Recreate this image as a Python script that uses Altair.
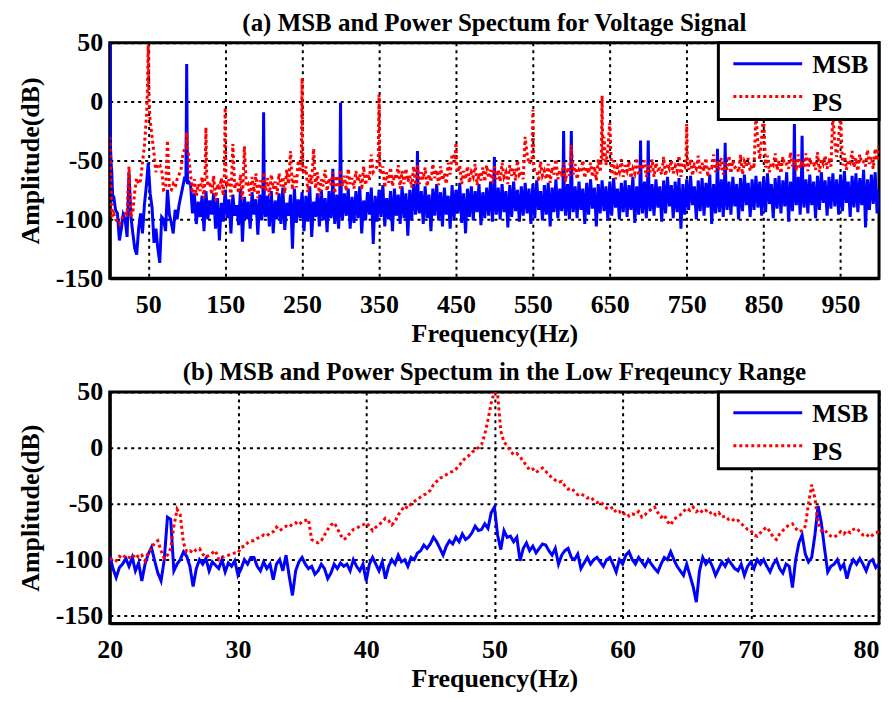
import altair as alt
import pandas as pd

FONT = "Liberation Serif"
BLUE = "#0000FF"
RED = "#FF0000"
series_names = ["MSB", "PS"]

# ---------------- Panel (a): 0-1000 Hz ----------------
# readings at 0, 5, 10, ... Hz (upper side of the noisy band and the narrow peaks)
a_start, a_step = 0, 5
msb_a_db = [
    50, -80, -95, -108, -100, -60, -112, -130, -95, -88, -52, -90, -108, -137, -100, -75, -103, -92, -88, -72,
    32, -70, -78, -85, -80, -76, -84, -78, -82, -86, -75, -83, -79, -88, -74, -81, -85, -77, -83, -79,
    -9, -80, -76, -84, -78, -73, -86, -79, -74, -83, -77, -80, -72, -85, -78, -75, -82, -76, -57, -79,
    -1, -78, -74, -81, -76, -72, -84, -77, -73, -80, -75, -71, -82, -76, -74, -79, -72, -78, -75, -70,
    -42, -76, -72, -79, -74, -70, -77, -73, -80, -71, -75, -69, -78, -74, -72, -76, -70, -77, -73, -68,
    -47, -73, -70, -76, -71, -68, -75, -72, -69, -74, -70, -67, -76, -71, -69, -73, -66, -74, -25, -70,
    -25, -72, -68, -74, -69, -66, -73, -70, -67, -72, -68, -65, -74, -69, -67, -71, -64, -72, -33, -68,
    -33, -70, -66, -72, -67, -64, -71, -68, -65, -70, -66, -63, -72, -67, -65, -69, -62, -70, -40, -66,
    -35, -68, -64, -70, -65, -62, -69, -66, -63, -68, -64, -61, -70, -65, -63, -67, -60, -68, -19, -64,
    -29, -66, -62, -68, -63, -60, -67, -64, -61, -66, -62, -59, -68, -63, -61, -65, -58, -66, -62, -60,
]
ps_a_db = [
    -30, -95, -102, -100, -95, -55, -94, -65, -67, -38, 48, -30, -60, -54, -75, -33, -75, -73, -62, -45,
    -26, -62, -66, -70, -64, -22, -68, -63, -70, -65, -5, -66, -36, -68, -62, -38, -70, -64, -61, -67,
    -60, -65, -62, -68, -61, -64, -58, -42, -63, -50, 20, -55, -62, -40, -60, -66, -58, -65, -60, -63,
    -58, -63, -57, -65, -59, -62, -55, -61, -45, -58, 6, -55, -60, -56, -62, -54, -59, -57, -63, -55,
    -54, -60, -56, -62, -53, -58, -55, -61, -52, -45, -35, -54, -59, -55, -60, -53, -61, -56, -54, -58,
    -55, -58, -52, -60, -54, -57, -50, -59, -30, -53, -7, -58, -51, -59, -53, -56, -49, -58, -52, -56,
    -37, -53, -58, -50, -56, -52, -55, -49, 5, -54, -18, -50, -56, -49, -54, -51, -57, -48, -53, -50,
    -54, -49, -52, -57, -47, -53, -50, -55, -46, -52, -19, -49, -54, -46, -52, -48, -55, -45, -51, -48,
    -52, -46, -50, -55, -45, -51, -48, -53, -10, -49, -10, -46, -52, -44, -50, -47, -53, -43, -49, -45,
    -50, -44, -48, -53, -43, -49, -46, -51, -10, -47, -10, -44, -50, -42, -48, -45, -51, -41, -47, -40,
]
# readings at 2.5, 7.5, 12.5, ... Hz (lower side of the noisy band)
a_mid_start = 2.5
msb_a_mid_db = [
    -58, -92, -118, -96, -115, -98, -125, -108, -112, -72, -78, -120, -125, -98, -110, -96, -112, -100, -80, -64,
    -68, -95, -104, -98, -110, -100, -96, -108, -118, -102, -99, -112, -97, -105, -119, -100, -108, -96, -113, -101,
    -98, -106, -112, -100, -104, -109, -97, -125, -103, -99, -110, -102, -115, -98, -106, -101, -111, -99, -104, -108,
    -100, -97, -108, -103, -99, -112, -101, -96, -121, -102, -98, -106, -100, -110, -97, -104, -99, -114, -101, -96,
    -95, -104, -99, -110, -97, -101, -106, -96, -108, -100, -95, -103, -112, -98, -101, -94, -105, -99, -97, -102,
    -96, -100, -94, -107, -98, -93, -102, -97, -95, -104, -99, -92, -101, -96, -106, -94, -99, -93, -97, -100,
    -94, -99, -92, -104, -96, -91, -106, -95, -93, -101, -97, -90, -100, -94, -98, -92, -103, -96, -95, -99,
    -93, -97, -90, -102, -95, -89, -99, -94, -108, -96, -92, -88, -100, -93, -97, -90, -104, -95, -94, -98,
    -92, -96, -89, -100, -93, -88, -98, -92, -90, -97, -94, -87, -99, -91, -95, -89, -102, -93, -88, -96,
    -90, -95, -88, -99, -92, -86, -97, -91, -89, -96, -93, -86, -98, -90, -94, -88, -107, -92, -87, -95,
]
ps_a_mid_db = [
    -92, -100, -104, -97, -96, -98, -76, -70, -52, -14, -16, -44, -53, -58, -74, -74, -70, -66, -58, -40,
    -45, -78, -80, -76, -82, -72, -79, -84, -75, -80, -70, -81, -74, -78, -83, -72, -80, -77, -82, -75,
    -76, -80, -74, -79, -72, -78, -70, -75, -73, -60, -62, -77, -70, -74, -80, -72, -76, -71, -78, -73,
    -72, -76, -70, -74, -68, -75, -71, -67, -60, -55, -62, -73, -69, -72, -66, -74, -70, -68, -73, -71,
    -70, -66, -72, -68, -65, -71, -67, -70, -62, -45, -60, -70, -66, -69, -64, -71, -67, -68, -65, -69,
    -66, -68, -64, -70, -63, -67, -62, -66, -45, -50, -58, -68, -63, -66, -69, -62, -66, -64, -68, -63,
    -62, -66, -60, -65, -61, -64, -67, -60, -30, -40, -62, -66, -60, -64, -59, -65, -61, -63, -58, -64,
    -60, -64, -58, -62, -63, -57, -61, -59, -64, -55, -58, -63, -57, -61, -59, -64, -56, -60, -58, -62,
    -58, -61, -56, -60, -62, -55, -59, -57, -35, -30, -56, -60, -54, -58, -61, -54, -57, -55, -59, -56,
    -56, -59, -54, -58, -60, -53, -57, -55, -35, -30, -54, -58, -52, -56, -59, -52, -55, -53, -57, -50,
]
# extra readings around the narrow peaks (frequency, dB)
msb_a_extra_f = [1, 2, 3, 4, 99, 101, 199, 201, 289, 291, 299, 301, 399, 401, 499, 501,
                 589, 591, 599, 601, 689, 691, 699, 701, 789, 791, 799, 801, 889, 891, 899, 901, 1000]
msb_a_extra_db = [-40, -55, -68, -85, -68, -70, -88, -90, -85, -88, -86, -90, -84, -86, -80, -82,
                  -80, -82, -78, -80, -78, -80, -76, -78, -80, -78, -75, -77, -74, -76, -72, -74, -75]
ps_a_extra_f = [1, 2, 3, 48, 49, 51, 52, 99, 101, 124, 126, 149, 151, 249, 251, 349, 351,
                449, 451, 549, 551, 639, 641, 749, 751, 1000]
ps_a_extra_db = [-60, -85, -98, -10, 12, 2, -12, -40, -42, -60, -62, -60, -62, -55, -58, -50, -52,
                 -52, -55, -50, -52, -48, -50, -50, -52, -38]

# ---------------- Panel (b): 20-80 Hz, one value every 0.25 Hz ----------------
b_start, b_step = 20, 0.25
msb_b_db = [
    -96, -108, -116, -107, -104, -99, -106, -98, -110, -103, -119, -104, -95, -89, -101, -112, -119, -100, -62, -64,
    -110, -104, -100, -93, -97, -106, -124, -108, -100, -104, -99, -110, -102, -105, -108, -100, -111, -103, -106, -101,
    -114, -108, -100, -104, -98, -98, -106, -110, -102, -108, -104, -118, -104, -100, -110, -96, -115, -132, -110, -102,
    -98, -104, -108, -106, -113, -110, -104, -108, -117, -112, -104, -108, -103, -106, -104, -110, -100, -106, -110, -104,
    -119, -104, -98, -104, -110, -102, -117, -106, -100, -104, -96, -102, -100, -106, -98, -100, -94, -92, -87, -90,
    -86, -80, -84, -90, -96, -88, -83, -86, -80, -84, -77, -82, -80, -76, -70, -74, -73, -68, -72, -58,
    -53, -78, -91, -74, -80, -79, -84, -80, -101, -90, -85, -92, -88, -94, -90, -86, -87, -92, -96, -90,
    -104, -96, -92, -90, -98, -100, -95, -108, -103, -98, -104, -100, -98, -102, -106, -100, -98, -104, -111, -100,
    -104, -96, -93, -100, -104, -98, -102, -106, -100, -104, -108, -111, -104, -98, -100, -93, -100, -106, -110, -114,
    -104, -114, -124, -138, -110, -98, -104, -100, -106, -114, -108, -102, -106, -100, -104, -108, -110, -104, -114, -106,
    -102, -108, -100, -104, -100, -106, -111, -104, -100, -108, -112, -104, -106, -125, -100, -85, -78, -95, -102, -98,
    -78, -52, -67, -90, -111, -106, -104, -100, -108, -104, -117, -106, -100, -104, -99, -104, -110, -102, -100, -107,
    -104,
]
ps_b_db = [
    -100, -99, -101, -97, -99, -96, -98, -99, -95, -98, -96, -101, -94, -90, -85, -83, -92, -99, -96, -90,
    -70, -55, -60, -85, -93, -92, -94, -91, -90, -95, -98, -96, -94, -92, -100, -98, -97, -96, -95, -94,
    -94, -89, -88, -85, -83, -83, -81, -80, -78, -79, -76, -75, -71, -74, -72, -70, -71, -68, -67, -69,
    -66, -65, -64, -82, -84, -85, -83, -78, -73, -69, -67, -72, -78, -82, -80, -76, -73, -72, -70, -69,
    -67, -70, -74, -71, -69, -66, -63, -65, -69, -66, -60, -56, -52, -54, -50, -48, -46, -44, -42, -41,
    -38, -33, -30, -27, -26, -24, -22, -21, -19, -16, -12, -9, -7, -4, -2, 0, 3, 12, 25, 40,
    50, 48, 15, 5, 2, -3, -6, -5, -8, -12, -16, -20, -19, -22, -20, -18, -21, -24, -27, -29,
    -31, -30, -34, -37, -36, -39, -42, -41, -43, -45, -44, -47, -49, -48, -51, -54, -55, -53, -58, -57,
    -60, -58, -61, -59, -60, -57, -62, -60, -57, -55, -53, -58, -62, -60, -66, -69, -64, -62, -60, -57,
    -54, -56, -53, -57, -55, -58, -56, -59, -57, -60, -58, -62, -61, -64, -63, -66, -65, -68, -70, -73,
    -74, -78, -79, -76, -73, -71, -75, -80, -82, -77, -74, -71, -69, -68, -72, -75, -74, -70, -50, -33,
    -45, -68, -74, -73, -77, -79, -80, -78, -75, -77, -74, -76, -73, -72, -75, -78, -77, -80, -78, -76,
    -75,
]

a_xticks = [50, 150, 250, 350, 450, 550, 650, 750, 850, 950]
b_xticks = [20, 30, 40, 50, 60, 70, 80]
yticks = [50, 0, -50, -100, -150]


def series_frame(start, step, vals, mid_start=None, mid_vals=(), extra_f=(), extra_db=()):
    f = [start + step * i for i in range(len(vals))]
    db = list(vals)
    if mid_start is not None:
        f += [mid_start + step * i for i in range(len(mid_vals))]
        db += list(mid_vals)
    f += list(extra_f)
    db += list(extra_db)
    return pd.DataFrame({"f": f, "db": db}).sort_values("f")


MINUS = "datum.value < 0 ? '-' + abs(datum.value) : '' + datum.value"


def panel(msb_df, ps_df, xdom, ydom, xticks, title, w, h):
    # the right-most tick label sits inside the frame, the others are centred
    label_align = {"condition": {"test": f"datum.value >= {xdom[1]}", "value": "right"}, "value": "center"}
    x = alt.X("f:Q", scale=alt.Scale(domain=xdom, nice=False, zero=False),
              axis=alt.Axis(values=xticks, title="Frequency(Hz)", labelPadding=13, titlePadding=3,
                            labelFlush=False, labelAlign=label_align, labelExpr=MINUS))
    y = alt.Y("db:Q", scale=alt.Scale(domain=ydom, nice=False, zero=False),
              axis=alt.Axis(values=yticks, title="Amplitude(dB)", labelPadding=7, titlePadding=12,
                            labelFlush=False, labelExpr=MINUS))
    msb = alt.Chart(msb_df).mark_line(color=BLUE, strokeWidth=3, clip=True).encode(x=x, y=y)
    ps = alt.Chart(ps_df).mark_line(color=RED, strokeWidth=3, strokeDash=[3, 3], clip=True).encode(x=x, y=y)

    one = pd.DataFrame({"name": series_names}).head(1)
    box = alt.Chart(one).mark_rect(fill="white", stroke="black", strokeWidth=3).encode(
        x=alt.value(w - 161), x2=alt.value(w), y=alt.value(0), y2=alt.value(77))
    l1 = alt.Chart(one).mark_rule(color=BLUE, strokeWidth=3).encode(
        x=alt.value(w - 146), x2=alt.value(w - 77), y=alt.value(21))
    l2 = alt.Chart(one).mark_rule(color=RED, strokeWidth=3, strokeDash=[3, 3]).encode(
        x=alt.value(w - 146), x2=alt.value(w - 77), y=alt.value(54))
    t1 = alt.Chart(one).mark_text(text=series_names[0], align="left", baseline="middle",
                                  font=FONT, fontSize=26, fontWeight="bold", color="black").encode(
        x=alt.value(w - 67), y=alt.value(22))
    t2 = alt.Chart(one).mark_text(text=series_names[1], align="left", baseline="middle",
                                  font=FONT, fontSize=26, fontWeight="bold", color="black").encode(
        x=alt.value(w - 67), y=alt.value(60))
    return alt.layer(msb, ps, box, l1, l2, t1, t2).properties(
        width=w, height=h,
        title=alt.TitleParams(title, font=FONT, fontSize=25, fontWeight="bold", color="black",
                              anchor="middle", offset=-6))


panel_a = panel(series_frame(a_start, a_step, msb_a_db, a_mid_start, msb_a_mid_db, msb_a_extra_f, msb_a_extra_db),
                series_frame(a_start, a_step, ps_a_db, a_mid_start, ps_a_mid_db, ps_a_extra_f, ps_a_extra_db),
                [0, 1000], [-150, 50], a_xticks,
                "(a) MSB and Power Spectum for Voltage Signal", 771, 236)
panel_b = panel(series_frame(b_start, b_step, msb_b_db), series_frame(b_start, b_step, ps_b_db),
                [20, 80], [-157, 50], b_xticks,
                "(b) MSB and Power Spectum in the  Low Freqeuncy Range", 771, 232)

chart = alt.vconcat(panel_a, panel_b, spacing=10).properties(
    padding={"left": 7, "top": 0, "right": 2, "bottom": 0}
).configure_axis(
    labelFont=FONT, labelFontSize=26, labelFontWeight="bold", labelColor="black",
    titleFont=FONT, titleFontSize=26, titleFontWeight="bold", titleColor="black",
    domainColor="black", domainWidth=3, ticks=False,
    grid=True, gridColor="black", gridDash=[3, 4], gridWidth=2, gridOpacity=1,
).configure_view(stroke="black", strokeWidth=3)

chart.save("out.html", embed_options={"renderer": "svg", "actions": False})
